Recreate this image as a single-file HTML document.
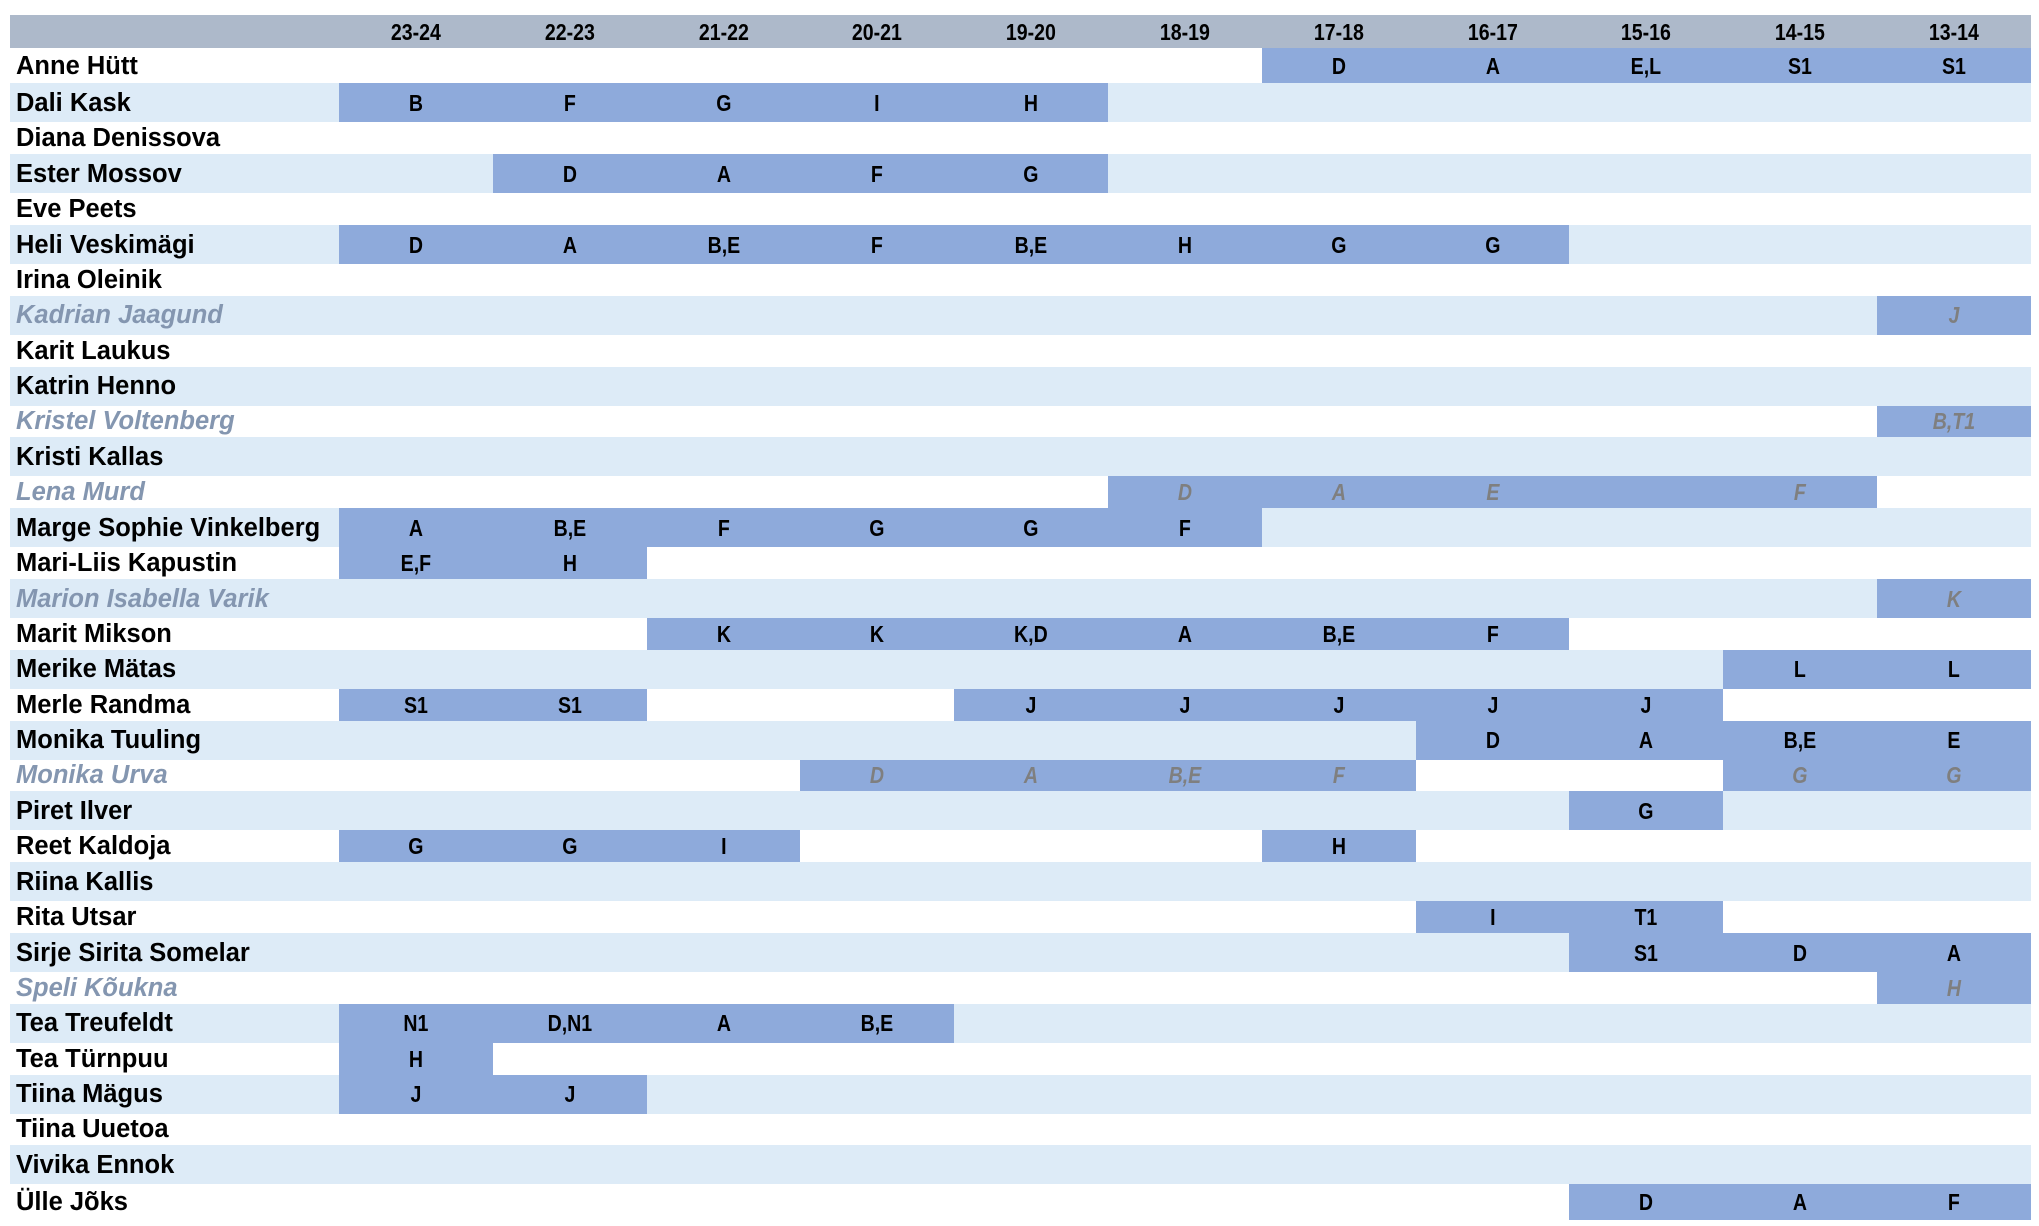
<!DOCTYPE html>
<html><head><meta charset="utf-8"><style>
body{margin:0;width:2039px;height:1226px;background:#fff;position:relative;overflow:hidden;font-family:"Liberation Sans",sans-serif}
.hd{position:absolute;left:10px;top:15px;width:2021px;height:33px;background:#adb9ca}
.row{position:absolute;left:10px;width:2021px}
.l{background:#ddebf7}
.n{position:absolute;left:6px;top:1px;bottom:0;display:flex;align-items:center;font-weight:bold;font-size:25.5px;color:#000;white-space:nowrap}
.i{font-style:italic;color:#8496b0}
.d{position:absolute;top:0;bottom:0;background:#8eaadb;left:calc(329px + 153.8px * var(--a));width:calc(153.8px * (var(--b) - var(--a)))}
.c{position:absolute;top:1px;bottom:0;width:153.8px;left:calc(329px + 153.8px * var(--a));display:flex;align-items:center;justify-content:center;font-weight:bold;font-size:23px;color:#000;transform:scaleX(.85)}
.g{font-style:italic;color:#7f7f7f}
</style></head><body>
<div class="hd">
<span class="c" style="--a:0">23-24</span><span class="c" style="--a:1">22-23</span><span class="c" style="--a:2">21-22</span><span class="c" style="--a:3">20-21</span><span class="c" style="--a:4">19-20</span><span class="c" style="--a:5">18-19</span><span class="c" style="--a:6">17-18</span><span class="c" style="--a:7">16-17</span><span class="c" style="--a:8">15-16</span><span class="c" style="--a:9">14-15</span><span class="c" style="--a:10">13-14</span>
</div>

<div class="row" style="top:48px;height:35.4px"><div class="d" style="--a:6;--b:11"></div><span class="n">Anne Hütt</span><span class="c" style="--a:6">D</span><span class="c" style="--a:7">A</span><span class="c" style="--a:8">E,L</span><span class="c" style="--a:9">S1</span><span class="c" style="--a:10">S1</span></div>
<div class="row l" style="top:83.4px;height:39px"><div class="d" style="--a:0;--b:5"></div><span class="n">Dali Kask</span><span class="c" style="--a:0">B</span><span class="c" style="--a:1">F</span><span class="c" style="--a:2">G</span><span class="c" style="--a:3">I</span><span class="c" style="--a:4">H</span></div>
<div class="row" style="top:122.3px;height:31.9px"><span class="n">Diana Denissova</span></div>
<div class="row l" style="top:154.2px;height:39px"><div class="d" style="--a:1;--b:5"></div><span class="n">Ester Mossov</span><span class="c" style="--a:1">D</span><span class="c" style="--a:2">A</span><span class="c" style="--a:3">F</span><span class="c" style="--a:4">G</span></div>
<div class="row" style="top:193.1px;height:31.9px"><span class="n">Eve Peets</span></div>
<div class="row l" style="top:225px;height:39px"><div class="d" style="--a:0;--b:8"></div><span class="n">Heli Veskimägi</span><span class="c" style="--a:0">D</span><span class="c" style="--a:1">A</span><span class="c" style="--a:2">B,E</span><span class="c" style="--a:3">F</span><span class="c" style="--a:4">B,E</span><span class="c" style="--a:5">H</span><span class="c" style="--a:6">G</span><span class="c" style="--a:7">G</span></div>
<div class="row" style="top:263.9px;height:31.9px"><span class="n">Irina Oleinik</span></div>
<div class="row l" style="top:295.8px;height:39px"><div class="d" style="--a:10;--b:11"></div><span class="n i">Kadrian Jaagund</span><span class="c g" style="--a:10">J</span></div>
<div class="row" style="top:334.7px;height:31.9px"><span class="n">Karit Laukus</span></div>
<div class="row l" style="top:366.6px;height:39px"><span class="n">Katrin Henno</span></div>
<div class="row" style="top:405.5px;height:31.9px"><div class="d" style="--a:10;--b:11"></div><span class="n i">Kristel Voltenberg</span><span class="c g" style="--a:10">B,T1</span></div>
<div class="row l" style="top:437.4px;height:39px"><span class="n">Kristi Kallas</span></div>
<div class="row" style="top:476.3px;height:31.9px"><div class="d" style="--a:5;--b:10"></div><span class="n i">Lena Murd</span><span class="c g" style="--a:5">D</span><span class="c g" style="--a:6">A</span><span class="c g" style="--a:7">E</span><span class="c g" style="--a:9">F</span></div>
<div class="row l" style="top:508.2px;height:39px"><div class="d" style="--a:0;--b:6"></div><span class="n">Marge Sophie Vinkelberg</span><span class="c" style="--a:0">A</span><span class="c" style="--a:1">B,E</span><span class="c" style="--a:2">F</span><span class="c" style="--a:3">G</span><span class="c" style="--a:4">G</span><span class="c" style="--a:5">F</span></div>
<div class="row" style="top:547.1px;height:31.9px"><div class="d" style="--a:0;--b:2"></div><span class="n">Mari-Liis Kapustin</span><span class="c" style="--a:0">E,F</span><span class="c" style="--a:1">H</span></div>
<div class="row l" style="top:579px;height:39px"><div class="d" style="--a:10;--b:11"></div><span class="n i">Marion Isabella Varik</span><span class="c g" style="--a:10">K</span></div>
<div class="row" style="top:617.9px;height:31.9px"><div class="d" style="--a:2;--b:8"></div><span class="n">Marit Mikson</span><span class="c" style="--a:2">K</span><span class="c" style="--a:3">K</span><span class="c" style="--a:4">K,D</span><span class="c" style="--a:5">A</span><span class="c" style="--a:6">B,E</span><span class="c" style="--a:7">F</span></div>
<div class="row l" style="top:649.8px;height:39px"><div class="d" style="--a:9;--b:11"></div><span class="n">Merike Mätas</span><span class="c" style="--a:9">L</span><span class="c" style="--a:10">L</span></div>
<div class="row" style="top:688.7px;height:31.9px"><div class="d" style="--a:0;--b:2"></div><div class="d" style="--a:4;--b:9"></div><span class="n">Merle Randma</span><span class="c" style="--a:0">S1</span><span class="c" style="--a:1">S1</span><span class="c" style="--a:4">J</span><span class="c" style="--a:5">J</span><span class="c" style="--a:6">J</span><span class="c" style="--a:7">J</span><span class="c" style="--a:8">J</span></div>
<div class="row l" style="top:720.6px;height:39px"><div class="d" style="--a:7;--b:11"></div><span class="n">Monika Tuuling</span><span class="c" style="--a:7">D</span><span class="c" style="--a:8">A</span><span class="c" style="--a:9">B,E</span><span class="c" style="--a:10">E</span></div>
<div class="row" style="top:759.5px;height:31.9px"><div class="d" style="--a:3;--b:7"></div><div class="d" style="--a:9;--b:11"></div><span class="n i">Monika Urva</span><span class="c g" style="--a:3">D</span><span class="c g" style="--a:4">A</span><span class="c g" style="--a:5">B,E</span><span class="c g" style="--a:6">F</span><span class="c g" style="--a:9">G</span><span class="c g" style="--a:10">G</span></div>
<div class="row l" style="top:791.4px;height:39px"><div class="d" style="--a:8;--b:9"></div><span class="n">Piret Ilver</span><span class="c" style="--a:8">G</span></div>
<div class="row" style="top:830.3px;height:31.9px"><div class="d" style="--a:0;--b:3"></div><div class="d" style="--a:6;--b:7"></div><span class="n">Reet Kaldoja</span><span class="c" style="--a:0">G</span><span class="c" style="--a:1">G</span><span class="c" style="--a:2">I</span><span class="c" style="--a:6">H</span></div>
<div class="row l" style="top:862.2px;height:39px"><span class="n">Riina Kallis</span></div>
<div class="row" style="top:901.1px;height:31.9px"><div class="d" style="--a:7;--b:9"></div><span class="n">Rita Utsar</span><span class="c" style="--a:7">I</span><span class="c" style="--a:8">T1</span></div>
<div class="row l" style="top:933px;height:39px"><div class="d" style="--a:8;--b:11"></div><span class="n">Sirje Sirita Somelar</span><span class="c" style="--a:8">S1</span><span class="c" style="--a:9">D</span><span class="c" style="--a:10">A</span></div>
<div class="row" style="top:971.9px;height:31.9px"><div class="d" style="--a:10;--b:11"></div><span class="n i">Speli Kõukna</span><span class="c g" style="--a:10">H</span></div>
<div class="row l" style="top:1003.8px;height:39px"><div class="d" style="--a:0;--b:4"></div><span class="n">Tea Treufeldt</span><span class="c" style="--a:0">N1</span><span class="c" style="--a:1">D,N1</span><span class="c" style="--a:2">A</span><span class="c" style="--a:3">B,E</span></div>
<div class="row" style="top:1042.7px;height:31.9px"><div class="d" style="--a:0;--b:1"></div><span class="n">Tea Türnpuu</span><span class="c" style="--a:0">H</span></div>
<div class="row l" style="top:1074.6px;height:39px"><div class="d" style="--a:0;--b:2"></div><span class="n">Tiina Mägus</span><span class="c" style="--a:0">J</span><span class="c" style="--a:1">J</span></div>
<div class="row" style="top:1113.5px;height:31.9px"><span class="n">Tiina Uuetoa</span></div>
<div class="row l" style="top:1145.4px;height:39px"><span class="n">Vivika Ennok</span></div>
<div class="row" style="top:1184.3px;height:36px"><div class="d" style="--a:8;--b:11"></div><span class="n">Ülle Jõks</span><span class="c" style="--a:8">D</span><span class="c" style="--a:9">A</span><span class="c" style="--a:10">F</span></div>
</body></html>
